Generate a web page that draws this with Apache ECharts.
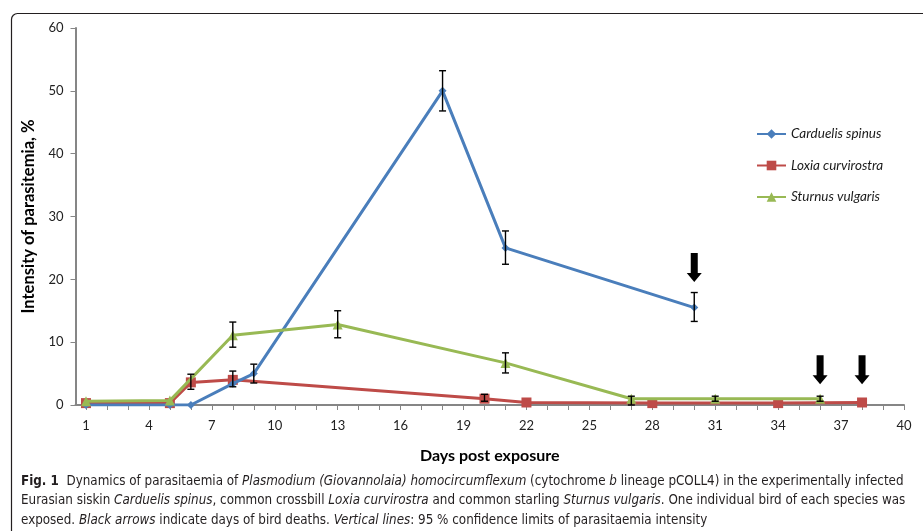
<!DOCTYPE html>
<html>
<head>
<meta charset="utf-8">
<script src="https://cdn.jsdelivr.net/npm/echarts@6/dist/echarts.min.js"></script>
<style>
  html, body { margin: 0; padding: 0; background: #fff; }
  #chart { width: 923px; height: 531px; }
</style>
</head>
<body>
<div id="chart"></div>
<script>
// days post exposure vs intensity of parasitemia (%)
const spinusData = [[1, 0], [5, 0], [6, 0], [8, 3.4], [9, 5], [18, 50], [21, 25], [30, 15.5]];
const loxiaData = [[1, 0.3], [5, 0.3], [6, 3.6], [8, 4.0], [20, 1.0], [22, 0.4], [28, 0.3], [34, 0.3], [38, 0.4]];
const sturnusData = [[1, 0.6], [5, 0.7], [8, 11.1], [13, 12.8], [21, 6.7], [27, 1.0], [31, 1.0], [36, 1.0]];

// 95 % confidence limits: [day, low, high]
const errorBars = [
    [6, 2.5, 4.9], [8, 2.9, 5.4], [8, 9.2, 13.2], [9, 3.5, 6.5],
    [13, 10.7, 15.0], [18, 46.8, 53.2], [20, 0.6, 1.7], [21, 22.4, 27.7],
    [21, 5.1, 8.3], [27, 0.0, 1.4], [30, 13.3, 17.9], [31, 0.6, 1.4], [36, 0.6, 1.4]
];

// black arrows = days of bird deaths
const deathArrows = [[30, 21.9], [36, 5.6], [38, 5.6]];

const xTicks = [1, 2, 3, 4, 5, 6, 7, 8, 9, 10, 11, 12, 13, 14, 15, 16, 17, 18, 19, 20,
    21, 22, 23, 24, 25, 26, 27, 28, 29, 30, 31, 32, 33, 34, 35, 36, 37, 38, 39, 40];
const xTickLabels = [1, 4, 7, 10, 13, 16, 19, 22, 25, 28, 31, 34, 37, 40];
const seriesNames = ['Carduelis spinus', 'Loxia curvirostra', 'Sturnus vulgaris'];

const FONT = 'Lato, "Open Sans", sans-serif';
const CAP_FONT = '"DejaVu Sans Condensed", "Liberation Sans Narrow", sans-serif';
const CAP_SIZE = 13.3;
const axisGray = '#868686';

const chart = echarts.init(document.getElementById('chart'));

const capRich = {
    b: {fontFamily: CAP_FONT, fontSize: CAP_SIZE, fontWeight: 'bold', fill: '#231f20'},
    i: {fontFamily: CAP_FONT, fontSize: CAP_SIZE, fontStyle: 'italic', fill: '#231f20'}
};
const capLines = [
    '{b|Fig. 1}  Dynamics of parasitaemia of {i|Plasmodium (Giovannolaia) homocircumflexum} (cytochrome {i|b} lineage pCOLL4) in the experimentally infected',
    'Eurasian siskin {i|Carduelis spinus}, common crossbill {i|Loxia curvirostra} and common starling {i|Sturnus vulgaris}. One individual bird of each species was',
    'exposed. {i|Black arrows} indicate days of bird deaths. {i|Vertical lines}: 95 % confidence limits of parasitaemia intensity'
];

const options = {
    animation: false,
    backgroundColor: '#fff',
    textStyle: {fontFamily: FONT},
    grid: {left: 75.5, right: 19, top: 28, bottom: 126, containLabel: false},
    legend: {
        data: seriesNames,
        orient: 'vertical',
        left: 751,
        top: 122,
        itemWidth: 29,
        itemHeight: 12,
        itemGap: 17.5,
        textStyle: {fontFamily: FONT, fontSize: 13.5, fontStyle: 'italic', color: '#1a1a1a'}
    },
    xAxis: {
        type: 'value',
        min: 0.5,
        max: 40,
        name: 'Days post exposure',
        nameLocation: 'middle',
        nameGap: 43,
        nameTextStyle: {fontFamily: FONT, fontSize: 16, fontWeight: 'bold', color: '#000'},
        splitLine: {show: false},
        axisLine: {show: true, lineStyle: {color: axisGray, width: 2}},
        axisTick: {show: true, customValues: xTicks, length: 5, lineStyle: {color: axisGray, width: 1}},
        axisLabel: {customValues: xTickLabels, margin: 14, fontFamily: FONT, fontSize: 13, color: '#222'}
    },
    yAxis: {
        type: 'value',
        min: 0,
        max: 60,
        interval: 10,
        name: 'Intensity of parasitemia, %',
        nameLocation: 'middle',
        nameGap: 37,
        nameTextStyle: {fontFamily: FONT, fontSize: 16.5, fontWeight: 'bold', color: '#000'},
        splitLine: {show: false},
        axisLine: {show: true, lineStyle: {color: axisGray, width: 2}},
        axisTick: {show: true, length: 5, lineStyle: {color: axisGray, width: 1}},
        axisLabel: {margin: 12, fontFamily: FONT, fontSize: 13, color: '#222'}
    },
    graphic: [
        {
            type: 'rect', left: 9, top: 11, z: -10,
            shape: {width: 960, height: 600, r: 6},
            style: {fill: 'none', stroke: '#231f20', lineWidth: 1.2}
        },
        ...capLines.map((t, i) => ({
            type: 'text', left: 21, top: 475 + i * 19.5,
            style: {text: t, rich: capRich, fontFamily: CAP_FONT, fontSize: CAP_SIZE, fill: '#231f20'}
        }))
    ],
    series: [
        {
            name: 'Carduelis spinus', type: 'line', data: spinusData,
            symbol: 'diamond', symbolSize: 8, showAllSymbol: true,
            itemStyle: {color: '#4a7ebb'}, lineStyle: {color: '#4a7ebb', width: 3}, z: 3
        },
        {
            name: 'Loxia curvirostra', type: 'line', data: loxiaData,
            symbol: 'rect', symbolSize: 10, showAllSymbol: true,
            itemStyle: {color: '#be4b48'}, lineStyle: {color: '#be4b48', width: 3}, z: 2
        },
        {
            name: 'Sturnus vulgaris', type: 'line', data: sturnusData,
            symbol: 'triangle', symbolSize: 10, showAllSymbol: true,
            itemStyle: {color: '#98b954'}, lineStyle: {color: '#98b954', width: 3}, z: 4
        },
        {
            name: 'confidence', type: 'custom', data: errorBars, z: 6,
            encode: {x: 0, y: [1, 2]},
            renderItem: (params, api) => {
                const d = api.value(0);
                const lo = api.coord([d, api.value(1)]);
                const hi = api.coord([d, api.value(2)]);
                const w = 3.5;
                const st = {stroke: '#000', lineWidth: 1.4};
                return {
                    type: 'group',
                    children: [
                        {type: 'line', shape: {x1: lo[0], y1: lo[1], x2: hi[0], y2: hi[1]}, style: st},
                        {type: 'line', shape: {x1: lo[0] - w, y1: lo[1], x2: lo[0] + w, y2: lo[1]}, style: st},
                        {type: 'line', shape: {x1: hi[0] - w, y1: hi[1], x2: hi[0] + w, y2: hi[1]}, style: st}
                    ]
                };
            }
        },
        {
            name: 'deaths', type: 'scatter', data: deathArrows, z: 7,
            symbol: 'path://M4,0 L11,0 L11,20 L15,20 L7.5,29 L0,20 L4,20 Z',
            symbolSize: [15, 29],
            itemStyle: {color: '#000', opacity: 1}
        }
    ]
};

chart.setOption(options);
</script>
</body>
</html>
